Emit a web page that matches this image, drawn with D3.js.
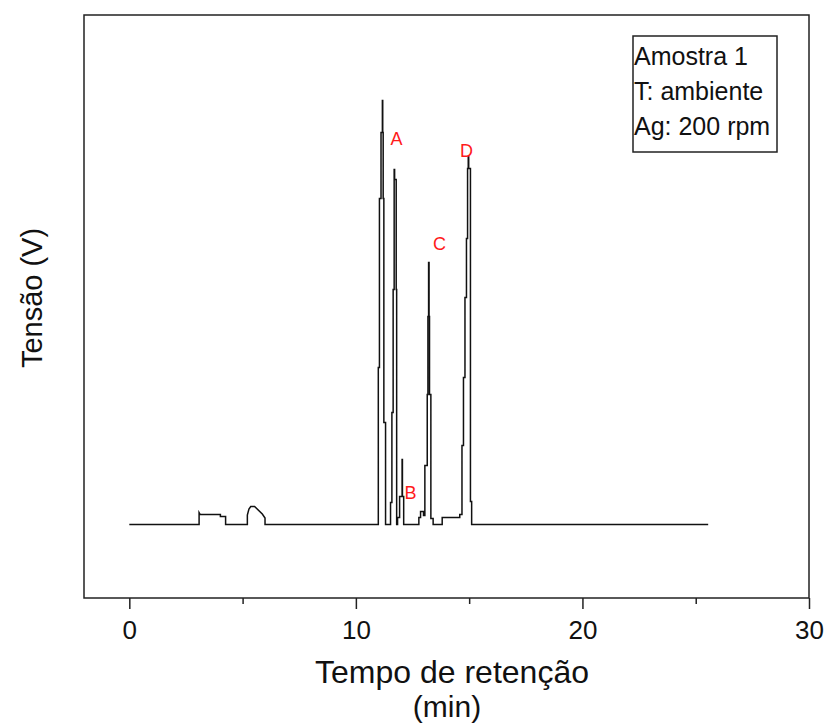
<!DOCTYPE html>
<html>
<head>
<meta charset="utf-8">
<script src="https://cdn.jsdelivr.net/npm/d3@7"></script>
<style>
  body { margin: 0; background: #fff; }
  text { font-family: "Liberation Sans", Arial, sans-serif; }
</style>
</head>
<body>
<div id="chart"></div>
<script>
// retention time (min) and detector signal (arbitrary units, baseline = 0)
const retentionTime = [
  0, 3.08, 3.08, 3.13, 4.02, 4.02, 4.25, 4.25,
  5.21, 5.21, 5.28, 5.36, 5.53, 5.87, 5.99, 5.99,
  10.99, 10.99, 11.04, 11.04, 11.11, 11.11, 11.17, 11.17, 11.185, 11.185, 11.205, 11.205, 11.235, 11.235, 11.31, 11.31,
  11.53, 11.53, 11.59, 11.59, 11.645, 11.645, 11.69, 11.69, 11.71, 11.71, 11.78, 11.78, 11.80, 11.80,
  11.84, 11.84, 11.93, 11.93, 12.04, 12.04, 12.055, 12.055, 12.11, 12.11,
  12.78, 12.78, 12.855, 12.855, 12.985, 12.985, 13.045, 13.045, 13.15, 13.15, 13.18, 13.18, 13.21, 13.21, 13.23, 13.23, 13.25, 13.25, 13.31, 13.31, 13.41, 13.41,
  13.81, 13.81, 14.585, 14.585,
  14.683, 14.683, 14.749, 14.749, 14.815, 14.815, 14.881, 14.881, 14.93, 14.93, 14.96, 14.96, 14.98, 14.98, 15.057, 15.057, 15.11, 15.11,
  25.55
]
const signal = [
  0, 0, 12, 10, 10, 8, 8, 0,
  0, 9.5, 15.5, 18, 18, 10.5, 6.5, 0,
  0, 157, 157, 326, 326, 392, 392, 424, 424, 392, 392, 326, 326, 102, 102, 0,
  0, 22, 22, 112, 112, 235, 235, 355, 355, 345, 345, 235, 235, 0,
  0, 7, 7, 28, 28, 65, 65, 28, 28, 0,
  0, 7, 7, 13, 13, 9, 9, 59, 59, 130, 130, 208, 208, 262, 262, 208, 208, 130, 130, 6, 6, 0,
  0, 7, 7, 10,
  10, 79, 79, 147, 147, 227, 227, 286, 286, 356, 356, 368, 368, 356, 356, 23, 23, 0,
  0
]

// peak labels
const peakNames = ["A", "B", "C", "D"]
const peakTime = [11.79, 12.41, 13.69, 14.88]
const peakSignal = [386, 32, 281, 374]

const xTicks = [0, 10, 20, 30]
const xMinorTicks = [5, 15, 25]
const legendLines = ["Amostra 1", "T: ambiente", "Ag: 200 rpm"]

const MARGIN = { LEFT: 84, RIGHT: 15, TOP: 15, BOTTOM: 127 }
const WIDTH = 824 - MARGIN.LEFT - MARGIN.RIGHT
const HEIGHT = 725 - MARGIN.TOP - MARGIN.BOTTOM

const svg = d3.select("#chart").append("svg")
  .attr("width", 824)
  .attr("height", 725)

const g = svg.append("g")
  .attr("transform", `translate(${MARGIN.LEFT}, ${MARGIN.TOP})`)

const x = d3.scaleLinear().domain([-2, 30]).range([0, WIDTH])
const y = d3.scaleLinear().domain([-73.5, 509.5]).range([HEIGHT, 0])

// X axis
const xAxisCall = d3.axisBottom(x)
  .tickValues(xTicks)
  .tickSize(11)
  .tickPadding(12)
  .tickFormat(d3.format("d"))

const xAxis = g.append("g")
  .attr("class", "x axis")
  .attr("transform", `translate(0, ${HEIGHT})`)
  .call(xAxisCall)

xAxis.select(".domain").remove()
xAxis.selectAll("line").attr("stroke", "#222").attr("stroke-width", 1.5)
xAxis.selectAll("text")
  .attr("font-size", "26px")
  .attr("fill", "#111")
  .attr("font-family", "Liberation Sans, Arial, sans-serif")

const xMinor = g.append("g")
  .attr("transform", `translate(0, ${HEIGHT})`)
  .call(d3.axisBottom(x).tickValues(xMinorTicks).tickSize(6).tickFormat(""))
xMinor.select(".domain").remove()
xMinor.selectAll("line").attr("stroke", "#222").attr("stroke-width", 1.5)

// frame
g.append("rect")
  .attr("width", WIDTH)
  .attr("height", HEIGHT)
  .attr("fill", "none")
  .attr("stroke", "#222")
  .attr("stroke-width", 1.5)

// chromatogram
const points = retentionTime.map((t, i) => ({ t: t, v: signal[i] }))

const line = d3.line()
  .x(d => x(d.t))
  .y(d => y(d.v))

g.append("path")
  .datum(points)
  .attr("class", "line")
  .attr("d", line)
  .attr("fill", "none")
  .attr("stroke", "#111")
  .attr("stroke-width", 1.5)

// peak labels
g.selectAll(".peakLabel")
  .data(peakNames)
  .enter().append("text")
    .attr("class", "peakLabel")
    .attr("x", (d, i) => x(peakTime[i]))
    .attr("y", (d, i) => y(peakSignal[i]))
    .attr("dy", "0.35em")
    .attr("text-anchor", "middle")
    .attr("font-size", "18px")
    .attr("fill", "#ff1a1a")
    .text(d => d)

// legend box
const legend = g.append("g")
  .attr("transform", `translate(${633 - MARGIN.LEFT}, ${36 - MARGIN.TOP})`)

legend.append("rect")
  .attr("width", 144)
  .attr("height", 116)
  .attr("fill", "#fff")
  .attr("stroke", "#222")
  .attr("stroke-width", 1.5)

legend.selectAll(".legendText")
  .data(legendLines)
  .enter().append("text")
    .attr("class", "legendText")
    .attr("x", 1)
    .attr("y", (d, i) => 29 + i * 35)
    .attr("font-size", "25px")
    .attr("fill", "#111")
    .text(d => d)

// axis labels
g.append("text")
  .attr("class", "x axisLabel")
  .attr("x", 452 - MARGIN.LEFT)
  .attr("y", 683 - MARGIN.TOP)
  .attr("font-size", "32px")
  .attr("text-anchor", "middle")
  .attr("fill", "#111")
  .text("Tempo de retenção")

g.append("text")
  .attr("class", "x axisLabel")
  .attr("x", 447 - MARGIN.LEFT)
  .attr("y", 717 - MARGIN.TOP)
  .attr("font-size", "30px")
  .attr("text-anchor", "middle")
  .attr("fill", "#111")
  .text("(min)")

g.append("text")
  .attr("class", "y axisLabel")
  .attr("transform", "rotate(-90)")
  .attr("x", -(298 - MARGIN.TOP))
  .attr("y", 42 - MARGIN.LEFT)
  .attr("font-size", "29px")
  .attr("text-anchor", "middle")
  .attr("fill", "#111")
  .text("Tensão (V)")
</script>
</body>
</html>
